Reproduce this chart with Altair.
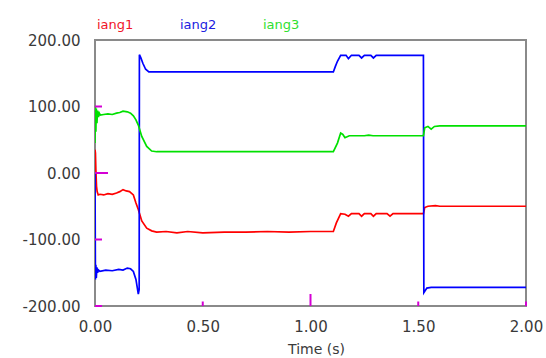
import altair as alt
import pandas as pd

# Phase angles (deg) against time (s) for the three currents
iang1_t = [0.000, 0.002, 0.004, 0.007, 0.010, 0.015, 0.023, 0.040, 0.060, 0.080, 0.100, 0.115,
           0.130, 0.145, 0.160, 0.178, 0.190, 0.201, 0.217, 0.240, 0.263, 0.286, 0.330, 0.380,
           0.430, 0.500, 0.600, 0.700, 0.800, 0.900, 1.000, 1.106, 1.120, 1.140, 1.160, 1.176,
           1.190, 1.225, 1.237, 1.250, 1.280, 1.292, 1.305, 1.355, 1.369, 1.383, 1.524, 1.530,
           1.545, 1.580, 1.600, 2.000]
iang1_v = [35, 30, 5, -20, -28, -33, -32, -33, -31, -32, -30, -28,
           -25, -27, -28, -33, -45, -55, -72, -83, -87, -89, -88, -90,
           -88, -90, -89, -89, -88, -89, -88, -88, -75, -61, -62, -65,
           -61, -61, -65, -61, -61, -65, -61, -61, -65, -61, -61, -52,
           -50, -49, -50, -50]

iang2_t = [0.000, 0.002, 0.004, 0.006, 0.009, 0.012, 0.016, 0.023, 0.050, 0.080, 0.110, 0.130,
           0.150, 0.165, 0.178, 0.190, 0.201, 0.205, 0.206, 0.212, 0.222, 0.235, 0.250, 0.270,
           0.300, 0.600, 0.900, 1.106, 1.115, 1.125, 1.140, 1.165, 1.176, 1.190, 1.225, 1.237,
           1.250, 1.280, 1.292, 1.305, 1.400, 1.524, 1.526, 1.540, 1.560, 1.600, 2.000]
iang2_v = [0, -160, -138, -158, -142, -150, -146, -148, -146, -147, -145, -146,
           -143, -144, -148, -160, -182, -175, 178, 174, 165, 156, 152, 152,
           152, 152, 152, 152, 160, 168, 177, 177, 172, 177, 177, 173,
           177, 177, 173, 177, 177, 177, -180, -173, -172, -172, -172]

iang3_t = [0.000, 0.002, 0.004, 0.006, 0.009, 0.012, 0.016, 0.020, 0.025, 0.040, 0.060, 0.080,
           0.100, 0.115, 0.130, 0.150, 0.165, 0.178, 0.190, 0.201, 0.217, 0.240, 0.263, 0.286,
           0.400, 0.700, 1.000, 1.106, 1.125, 1.140, 1.150, 1.160, 1.180, 1.200, 1.250, 1.270,
           1.290, 1.524, 1.530, 1.545, 1.560, 1.575, 1.600, 2.000]
iang3_v = [45, 100, 62, 97, 75, 94, 84, 90, 87, 88, 89, 88,
           90, 91, 93, 92, 90, 86, 80, 72, 55, 40, 33, 32,
           32, 32, 32, 32, 45, 60, 58, 53, 56, 56, 56, 57,
           56, 56, 68, 70, 66, 70, 71, 71]

series_names = ["iang1", "iang2", "iang3"]
series_colors = ["#ff0000", "#0000ff", "#00e000"]
legend_colors = ["#f01428", "#2020e0", "#30e030"]

x_ticks = [0.0, 0.5, 1.0, 1.5, 2.0]
y_ticks = [-200, -100, 0, 100, 200]
x_minor = [0.5, 1.5, 2.0]
x_major = [1.0]
y_minor = [-200, -100, 100]
y_major = [0]

W, H = 431, 266

frames = []
for name, ts, vs in zip(series_names, [iang1_t, iang2_t, iang3_t], [iang1_v, iang2_v, iang3_v]):
    frames.append(pd.DataFrame({"time": ts, "angle": vs, "series": name}))
df = pd.concat(frames, ignore_index=True)

label_font = "DejaVu Sans"
label_color = "#3a3a3a"

x_enc = alt.X(
    "time:Q",
    scale=alt.Scale(domain=[0, 2], nice=False),
    axis=alt.Axis(
        values=x_ticks, format=".2f", ticks=False, domain=False, grid=False,
        labelFlush=False, labelOverlap=False,
        labelPadding=13, labelFont=label_font, labelFontSize=15, labelColor=label_color,
        title="Time (s)", titleFont=label_font, titleFontSize=14, titleFontWeight="normal",
        titleColor=label_color, titlePadding=8, titleX=221,
    ),
)
y_enc = alt.Y(
    "angle:Q",
    scale=alt.Scale(domain=[-200, 200], nice=False),
    axis=alt.Axis(
        values=y_ticks, ticks=False, domain=False, grid=False, title=None,
        labelFlush=False, labelOverlap=False,
        labelExpr="replace(format(datum.value, '.2f'), '\u2212', '-')",
        labelPadding=15, labelFont=label_font, labelFontSize=15, labelColor=label_color,
    ),
)

lines = alt.Chart(df).mark_line(strokeWidth=1.7, clip=True).encode(
    x=x_enc,
    y=y_enc,
    color=alt.Color("series:N", scale=alt.Scale(domain=series_names, range=series_colors), legend=None),
    detail="series:N",
    order="time:Q",
)

tick_color = "#d400d4"


def x_tick_layer(values, length):
    return alt.Chart(pd.DataFrame({"time": values})).mark_rule(
        color=tick_color, strokeWidth=2
    ).encode(x="time:Q", y=alt.value(H), y2=alt.value(H - length))


def y_tick_layer(values, length):
    return alt.Chart(pd.DataFrame({"angle": values})).mark_rule(
        color=tick_color, strokeWidth=2
    ).encode(y="angle:Q", x=alt.value(0), x2=alt.value(length))


ticks = [
    x_tick_layer(x_minor, 4.5),
    x_tick_layer(x_major, 12),
    y_tick_layer(y_minor, 7),
    y_tick_layer(y_major, 13),
]

# Series names written above the frame in their own colours
legend_layers = []
for i, (name, col) in enumerate(zip(series_names, legend_colors)):
    legend_layers.append(
        alt.Chart(pd.DataFrame({"series": [name]})).mark_text(
            align="left", baseline="middle", font=label_font, fontSize=13, color=col
        ).encode(text="series:N", x=alt.value(2 + 83 * i), y=alt.value(-15))
    )

chart = alt.layer(lines, *ticks, *legend_layers).properties(
    width=W,
    height=H,
    autosize=alt.AutoSizeParams(type="none"),
    padding={"left": 95, "top": 40, "right": 20, "bottom": 52},
    background="white",
).configure_view(
    stroke="#8a8a8a", strokeWidth=2
)

chart.save("out.html", embed_options={"renderer": "svg", "actions": False})
